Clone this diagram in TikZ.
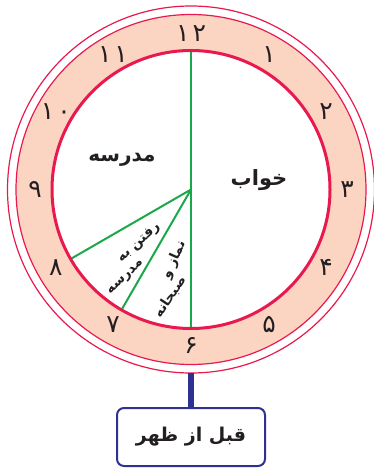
\documentclass[tikz,border=0pt]{standalone}
\usepackage{fontspec}
\TeXXeTstate=1
\newfontfamily\arabicfont[Script=Arabic]{DejaVu Sans}
\newfontfamily\digitfont{DejaVu Sans}
\definecolor{ringred}{HTML}{E8194F}
\definecolor{bandfill}{HTML}{FCD4C2}
\definecolor{handgreen}{HTML}{1BA84B}
\definecolor{boxblue}{HTML}{2E3192}
\definecolor{ink}{HTML}{231F20}
\begin{document}
\begin{tikzpicture}[x=1pt,y=-1pt,
  digit/.style={font=\digitfont\fontsize{25}{25}\selectfont, text=ink, inner sep=0pt},
  lbl/.style={font=\arabicfont\bfseries\fontsize{20}{20}\selectfont, text=ink, inner sep=0pt},
  smalllbl/.style={font=\arabicfont\bfseries\fontsize{13.5}{13.5}\selectfont, text=ink, inner sep=0pt},
  handline/.style={draw=handgreen, line width=2pt},
  ringline/.style={draw=ringred, line width=1.2pt},
]
\useasboundingbox (0,0) rectangle (374,468);
\coordinate (c) at (191,189.5);
% band
\fill[bandfill] (c) circle[radius=175pt];
\fill[white] (c) circle[radius=139pt];
\draw[ringline] (c) circle[radius=183.5pt];
\draw[ringline] (c) circle[radius=175pt];
% hands
\coordinate (p12) at (191,50.5);
\coordinate (p6) at (191,328.5);
\coordinate (p7) at (121.5,309.9);
\coordinate (p8) at (70.6,259);
\draw[handline] (c) -- (p12);
\draw[handline] (c) -- (p6);
\draw[handline] (c) -- (p7);
\draw[handline] (c) -- (p8);
\draw[draw=ringred, line width=3pt] (c) circle[radius=139pt];
% digits
\foreach \h/\t in {1/۱,2/۲,3/۳,4/۴,5/۵,6/۶,7/۷,8/۸,9/۹,10/۱\hspace{3pt}۰,11/۱\hspace{3pt}۱,12/۱\hspace{3pt}۲}
  \node[digit] (h\h) at ({191+156*sin(30*\h)},{189.5-156*cos(30*\h)}) {\t};
% labels
\node[lbl] (school) at (122,160) {\beginR مدرسه\endR};
\node[lbl, font=\arabicfont\bfseries\fontsize{21}{21}\selectfont] (sleep) at (259,180) {\beginR خواب\endR};
\node[smalllbl, rotate=42] (goa) at (139,243) {\beginR رفتن به\endR};
\node[smalllbl, rotate=44] (gob) at (126,278) {\beginR مدرسه\endR};
\node[smalllbl, rotate=66] (pra) at (174,260) {\beginR نماز و\endR};
\node[smalllbl, rotate=56] (prb) at (170,297) {\beginR صبحانه\endR};
% box
\node[draw=boxblue, line width=2pt, rounded corners=7pt, minimum width=148pt, minimum height=58pt,
  font=\arabicfont\bfseries\fontsize{19}{19}\selectfont, text=ink] (box) at (191,437) {\beginR قبل از ظهر\endR};
\coordinate (cb) at (191,373);
\draw[boxblue, line width=6pt] (cb) -- (box.north);
\end{tikzpicture}
\end{document}
